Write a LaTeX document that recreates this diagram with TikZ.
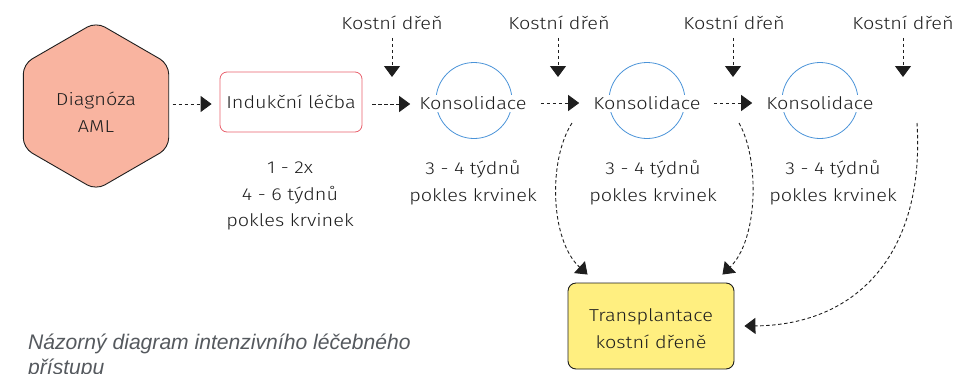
\documentclass[tikz,border=0pt]{standalone}
\usepackage{fontspec}
\setmainfont{Liberation Sans}
\newfontfamily\hand[FakeStretch=1.15]{Fira Sans Light}
\newfontfamily\capfont{Liberation Sans}
\usetikzlibrary{arrows.meta,calc}

\definecolor{ink}{HTML}{1E1E1E}
\definecolor{hexfill}{HTML}{F9B4A0}
\definecolor{indred}{HTML}{E8606C}
\definecolor{cycblue}{HTML}{4A93D8}
\definecolor{tpfill}{HTML}{FFEF80}
\definecolor{capgrey}{HTML}{55595E}

\tikzset{
  hand/.style={font=\hand\fontsize{17.3}{26.8}\selectfont, text=ink},
  flow/.style={draw=ink, line width=0.9pt, dash pattern=on 3.5pt off 2.5pt,
    -{Triangle[length=11pt,width=16pt]}},
  ktext/.style={hand, fill=white, inner xsep=0pt, inner ysep=0pt, minimum height=17pt},
  cyc/.style={draw=cycblue, line width=0.8pt},
  capstyle/.style={font=\capfont\itshape\fontsize{21.1}{27}\selectfont, text=capgrey,
    anchor=base west, inner sep=0pt}
}

\begin{document}
\begin{tikzpicture}[x=1pt,y=-1pt]
\useasboundingbox (0,0) rectangle (975,373);
\clip (0,0) rectangle (975,373);

% diagnosis hexagon
\draw[draw=ink, fill=hexfill, line width=0.9pt, rounded corners=10pt]
  (96,22) -- (168.7,64) -- (168.7,148) -- (96,190) -- (23.3,148) -- (23.3,64) -- cycle;
\coordinate (hexE) at (168.7,104);
\node[hand, align=center] (diag) at (96,112) {Diagnóza\\AML};

% induction therapy
\node[hand, draw=indred, line width=0.8pt, rounded corners=7pt,
  minimum width=142pt, minimum height=60pt] (ind) at (291,102) {Indukční léčba};
\node[hand, align=center] (indsub) at (290,196) {1 - 2x\\4 - 6 týdnů\\pokles krvinek};

% consolidation cycles
\draw[cyc] (474,100.5) circle [radius=38pt];
\draw[cyc] (647,100.5) circle [radius=38pt];
\draw[cyc] (820,100.5) circle [radius=38pt];
\node[ktext] (k1) at (473,103) {Konsolidace};
\node[ktext] (k2) at (647,103) {Konsolidace};
\node[ktext] (k3) at (820,103) {Konsolidace};
\node[hand, align=center] (k1sub) at (473,183) {3 - 4 týdnů\\pokles krvinek};
\node[hand, align=center] (k2sub) at (653,183) {3 - 4 týdnů\\pokles krvinek};
\node[hand, align=center] (k3sub) at (833,183) {3 - 4 týdnů\\pokles krvinek};

% bone marrow checks
\node[hand] (bm1) at (392,22.5) {Kostní dřeň};
\node[hand] (bm2) at (559,22.5) {Kostní dřeň};
\node[hand] (bm3) at (734,22.5) {Kostní dřeň};
\node[hand] (bm4) at (903,22.5) {Kostní dřeň};
\coordinate (t1) at (392,77);
\coordinate (t2) at (558,77);
\coordinate (t3) at (733,77);
\coordinate (t4) at (903,77);
\draw[flow, shorten <=5pt] (bm1.south) -- (t1);
\draw[flow, shorten <=5pt] (bm2.south -| t2) -- (t2);
\draw[flow, shorten <=5pt] (bm3.south -| t3) -- (t3);
\draw[flow, shorten <=5pt] (bm4.south) -- (t4);

% main sequence
\draw[flow, shorten <=4pt, shorten >=8pt] (hexE) -- (hexE -| ind.west);
\draw[flow, shorten <=10pt, shorten >=9pt] (ind.east |- 0,104) -- (k1.west |- 0,104);
\draw[flow, shorten <=14pt, shorten >=14pt] (k1.east) -- (k2.west);
\draw[flow, shorten <=13pt, shorten >=14pt] (k2.east) -- (k3.west);

% transplantation
\node[hand, draw=ink, fill=tpfill, line width=0.9pt, rounded corners=8pt,
  minimum width=166pt, minimum height=86pt, align=center] (tp) at (651,326) {};
\node[hand, align=center] (tptext) at (651,329) {Transplantace\\kostní dřeně};
\coordinate (s1) at (572,123);
\coordinate (s2) at (739,123);
\coordinate (s3) at (917,123);
\draw[flow] (s1) .. controls (548,160) and (550,240) .. ([xshift=20pt,yshift=8pt]tp.north west);
\draw[flow] (s2) .. controls (760,160) and (758,240) .. ([xshift=-12pt,yshift=8pt]tp.north east);
\draw[flow] (s3) .. controls (925,250) and (860,325) .. ([xshift=10pt]tp.east);

% caption
\node[capstyle] (cap1) at (28,349) {Názorný diagram intenzivního léčebného};
\node[capstyle] (cap2) at (28,374) {přístupu};
\end{tikzpicture}
\end{document}
